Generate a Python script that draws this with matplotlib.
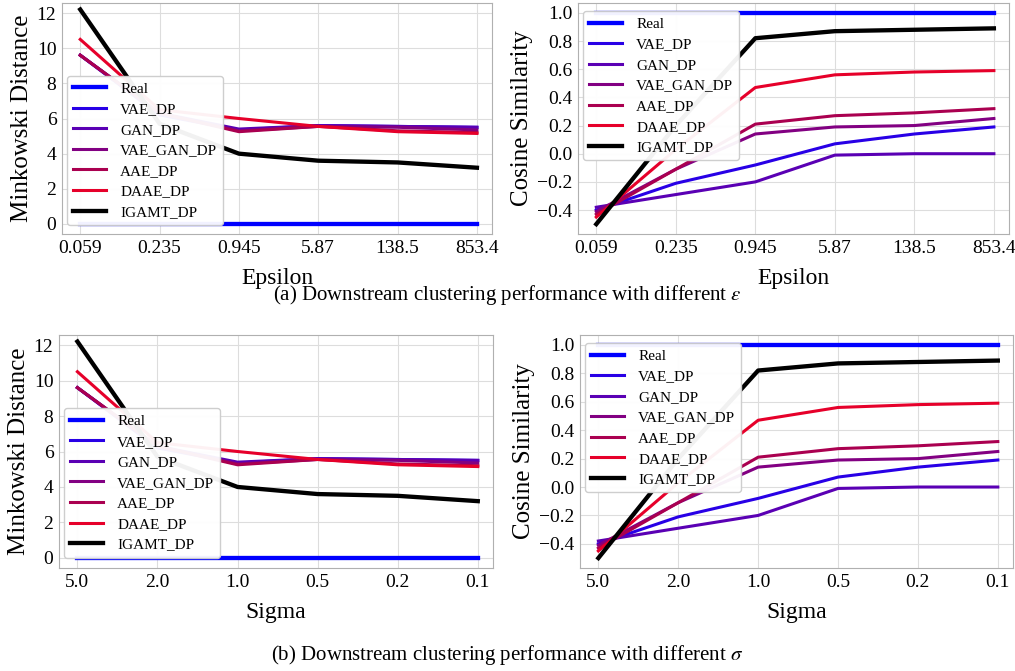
import matplotlib.pyplot as plt

plt.rcParams['font.family'] = ['Liberation Serif', 'DejaVu Serif']
plt.rcParams['mathtext.fontset'] = 'stix'

eps_labels = ["0.059", "0.235", "0.945", "5.87", "138.5", "853.4"]
sigma_labels = ["5.0", "2.0", "1.0", "0.5", "0.2", "0.1"]
models = ["Real", "VAE_DP", "GAN_DP", "VAE_GAN_DP", "AAE_DP", "DAAE_DP", "IGAMT_DP"]

# Minkowski distance per model
mink = {
    "Real":       [0.0, 0.0, 0.0, 0.0, 0.0, 0.0],
    "VAE_DP":     [9.6, 6.2, 5.35, 5.6, 5.55, 5.5],
    "GAN_DP":     [9.6, 6.3, 5.4, 5.6, 5.55, 5.5],
    "VAE_GAN_DP": [9.6, 6.3, 5.3, 5.55, 5.5, 5.35],
    "AAE_DP":     [9.6, 6.3, 5.25, 5.55, 5.3, 5.2],
    "DAAE_DP":    [10.5, 6.5, 6.0, 5.55, 5.25, 5.15],
    "IGAMT_DP":   [12.2, 5.7, 4.0, 3.6, 3.5, 3.2],
}

# Cosine similarity per model
cos = {
    "Real":       [1.0, 1.0, 1.0, 1.0, 1.0, 1.0],
    "VAE_DP":     [-0.40, -0.21, -0.08, 0.07, 0.14, 0.19],
    "GAN_DP":     [-0.38, -0.29, -0.20, -0.01, 0.0, 0.0],
    "VAE_GAN_DP": [-0.41, -0.11, 0.14, 0.19, 0.20, 0.25],
    "AAE_DP":     [-0.43, -0.11, 0.21, 0.27, 0.29, 0.32],
    "DAAE_DP":    [-0.45, 0.03, 0.47, 0.56, 0.58, 0.59],
    "IGAMT_DP":   [-0.50, 0.20, 0.82, 0.87, 0.88, 0.89],
}

colors = {
    "Real": "#0000ff",
    "VAE_DP": "#2800e6",
    "GAN_DP": "#5a00b4",
    "VAE_GAN_DP": "#820082",
    "AAE_DP": "#aa0050",
    "DAAE_DP": "#e6002a",
    "IGAMT_DP": "#000000",
}
widths = {m: 2.2 for m in models}
widths["Real"] = 3.1
widths["IGAMT_DP"] = 3.1

fig = plt.figure(figsize=(10.15, 6.71), dpi=100)
W, H = 1015, 671
boxes = [
    (62, 3, 492, 234),
    (578, 3, 1009, 234),
    (59, 335, 493, 568),
    (580, 335, 1013, 568),
]
axes = [fig.add_axes([l / W, 1 - b / H, (r - l) / W, (b - t) / H]) for l, t, r, b in boxes]

panels = [
    (axes[0], mink, eps_labels, "Epsilon", "Minkowski Distance"),
    (axes[1], cos, eps_labels, "Epsilon", "Cosine Similarity"),
    (axes[2], mink, sigma_labels, "Sigma", "Minkowski Distance"),
    (axes[3], cos, sigma_labels, "Sigma", "Cosine Similarity"),
]

for ax, data, xl, xname, yname in panels:
    x = list(range(len(xl)))
    for m in models:
        ax.plot(x, data[m], color=colors[m], lw=widths[m], label=m, zorder=3)
    ax.set_xticks(x)
    ax.set_xticklabels(xl)
    ax.set_xlim(-0.23, 5.19)
    ax.grid(True, color="#dddddd", lw=0.8)
    ax.set_axisbelow(True)
    for s in ax.spines.values():
        s.set_color("#b0b0b0")
    ax.tick_params(labelsize=14, length=0, pad=4)
    ax.set_xlabel(xname, fontsize=17, labelpad=8)
    ax.set_ylabel(yname, fontsize=18, labelpad=3)
    ax.legend(loc="upper left", fontsize=11, framealpha=0.95, borderpad=0.4,
              borderaxespad=0.3, handlelength=2.2, handletextpad=0.9,
              labelspacing=0.45)

for ax in (axes[0], axes[2]):
    ax.set_ylim(-0.57, 12.57)
    ax.set_yticks([0, 2, 4, 6, 8, 10, 12])
    ax.get_legend().set_bbox_to_anchor((0.0, 0.705))
for ax in (axes[1], axes[3]):
    ax.set_ylim(-0.57, 1.07)
    ax.set_yticks([-0.4, -0.2, 0.0, 0.2, 0.4, 0.6, 0.8, 1.0])
    ax.set_yticklabels(["\u22120.4", "\u22120.2", "0.0", "0.2", "0.4", "0.6", "0.8", "1.0"])
    ax.get_legend().set_bbox_to_anchor((0.0, 0.985))

fig.text(507 / W, 1 - 295 / H, r"(a) Downstream clustering performance with different $\epsilon$",
         ha="center", va="center", fontsize=15)
fig.text(507 / W, 1 - 655 / H, r"(b) Downstream clustering performance with different $\sigma$",
         ha="center", va="center", fontsize=15)

fig.savefig("out.png", dpi=100)
